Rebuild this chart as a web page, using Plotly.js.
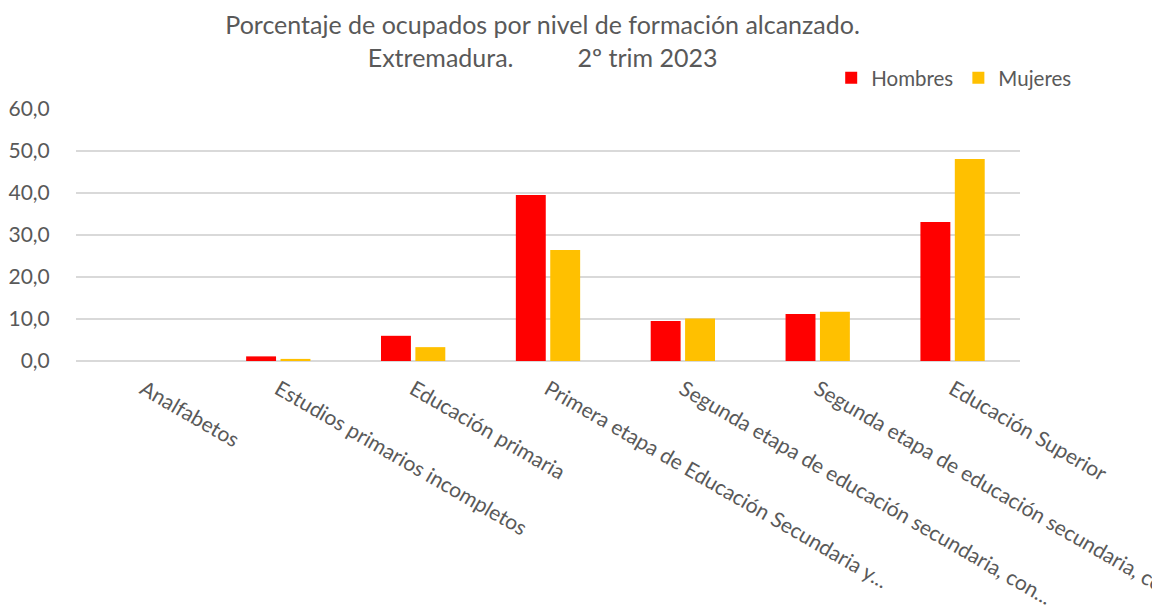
<!DOCTYPE html>
<html>
<head>
<meta charset="utf-8">
<script src="https://cdn.plot.ly/plotly-3.0.1.min.js"></script>
<style>html,body{margin:0;padding:0;background:#fff;}#chart{width:1152px;height:616px;}</style>
</head>
<body>
<div id="chart"></div>
<script>
const categories = [
  "Analfabetos",
  "Estudios primarios incompletos",
  "Educación primaria",
  "Primera etapa de Educación Secundaria y similar",
  "Segunda etapa de educación secundaria, con orientación general",
  "Segunda etapa de educación secundaria, con orientación profesional",
  "Educación Superior"
];
const tickLabels = [
  "Analfabetos",
  "Estudios primarios incompletos",
  "Educación primaria",
  "Primera etapa de Educación Secundaria y...",
  "Segunda etapa de educación secundaria, con...",
  "Segunda etapa de educación secundaria, con...",
  "Educación Superior"
];
const hombres = [0.0, 1.1, 6.0, 39.5, 9.5, 11.2, 33.1];
const mujeres = [0.0, 0.5, 3.3, 26.4, 10.1, 11.7, 48.1];
const yTicks = [0, 10, 20, 30, 40, 50, 60];

const FONT = "Lato, 'Open Sans', sans-serif";
const GREY = "#595959";
const NB = "\u00a0";

const traces = [
  {type: "bar", name: "Hombres", x: categories, y: hombres,
   marker: {color: "#FF0000", line: {width: 0}}, hoverinfo: "y"},
  {type: "bar", name: "Mujeres", x: categories, y: mujeres,
   marker: {color: "#FFC000", line: {width: 0}}, hoverinfo: "y"}
];

const layout = {
  width: 1152, height: 616,
  paper_bgcolor: "#fff", plot_bgcolor: "#fff",
  separators: ",.",
  font: {family: FONT, color: GREY, size: 20},
  margin: {l: 76, r: 132, t: 109, b: 255, autoexpand: false},
  title: {
    text: "Porcentaje de ocupados por nivel de formación alcanzado.<br>Extremadura." + NB.repeat(10) + "2º trim 2023",
    font: {family: FONT, size: 25, color: GREY},
    x: 0.471, xref: "container", xanchor: "center",
    y: 0.944, yref: "container", yanchor: "middle"
  },
  barmode: "group",
  bargap: 0.49,
  bargroupgap: 0.13,
  showlegend: true,
  legend: {
    orientation: "h", x: 0.80, xanchor: "left", y: 1.123, yanchor: "middle",
    font: {family: FONT, size: 20.5, color: GREY},
    itemwidth: 30, traceorder: "normal", bgcolor: "rgba(0,0,0,0)"
  },
  xaxis: {
    type: "category",
    tickmode: "array", tickvals: categories, ticktext: tickLabels,
    tickangle: 30,
    tickfont: {family: FONT, size: 21, color: GREY},
    showgrid: false, showline: false, zeroline: false,
    ticks: "outside", ticklen: 7, tickcolor: "rgba(0,0,0,0)",
    automargin: false, fixedrange: true
  },
  yaxis: {
    range: [0, 60], tickmode: "array", tickvals: yTicks,
    tickformat: ".1f",
    tickfont: {family: FONT, size: 21, color: GREY},
    showgrid: true, gridcolor: "#D9D9D9", gridwidth: 1.5,
    zeroline: true, zerolinecolor: "#D9D9D9", zerolinewidth: 1.5,
    showline: false, ticks: "outside", ticklen: 21, tickcolor: "rgba(0,0,0,0)",
    automargin: false, fixedrange: true
  }
};

Plotly.newPlot("chart", traces, layout, {displayModeBar: false, staticPlot: true});
</script>
</body>
</html>
